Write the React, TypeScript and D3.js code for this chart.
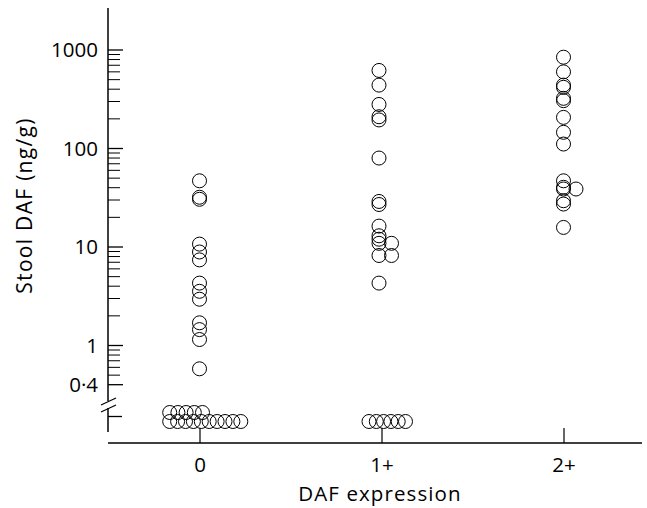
import React from 'react';
import * as d3 from 'd3';

// ---- data ----
const categories = ['0', '1+', '2+'];
const daf0Values = [47, 32, 30.5, 10.7, 8.9, 7.4, 4.3, 3.55, 2.95, 1.7, 1.45, 1.15, 0.58];
const daf1Values = [620, 440, 280, 210, 195, 80, 29, 27, 16.3, 13, 12, 10.9, 10.9, 8.2, 8.2, 4.3];
const daf2Values = [845, 600, 440, 418, 323, 306, 207, 146, 111, 47, 40.4, 38.8, 38.8, 29.5, 27.3, 15.8];
const zeroCounts = [15, 6, 0];
const majorTicks = [1000, 100, 10, 1, 0.4];
const majorTickLabels = ['1000', '100', '10', '1', '0·4'];
const minorTicks = [
  0.5, 0.6, 0.7, 0.8, 0.9,
  2, 3, 4, 5, 6, 7, 8, 9,
  20, 30, 40, 50, 60, 70, 80, 90,
  200, 300, 400, 500, 600, 700, 800, 900,
];
const yTitle = 'Stool DAF (ng/g)';
const xTitle = 'DAF expression';

const FONT = "'Open Sans', 'Liberation Sans', sans-serif";

export default function App() {
  const W = 647;
  const H = 508;
  const axisX = 108;
  const axisTop = 8;
  const axisBottom = 432;
  const xAxisY = 443;
  const xAxisRight = 642;
  const r = 7;

  const x = d3.scalePoint<string>().domain(categories).range([200, 564]);
  const y = d3.scaleLog().domain([1, 1000]).range([345.5, 50]);

  const colShift = [-0.5, -3, -0.5];
  const sideStep = 12.5;
  const series = [daf0Values, daf1Values, daf2Values];

  const points: { cx: number; cy: number }[] = [];
  series.forEach((vals, i) => {
    const seen = new Map<number, number>();
    vals.forEach((v) => {
      const slot = seen.get(v) || 0;
      seen.set(v, slot + 1);
      points.push({
        cx: (x(categories[i]) as number) + colShift[i] + slot * sideStep,
        cy: y(v),
      });
    });
  });

  // below-detection (zero) values, packed in rows below the axis break
  const zeroY = 416.5;
  const rowY = [421.5, 412.5];
  const rowCap = [10, 6];
  const rowStart = [-30.3, -13];
  const rowStep = [[7.9, 8.2], [7.3]];
  const zeros: { cx: number; cy: number }[] = [];
  zeroCounts.forEach((n, i) => {
    const cap = rowCap[i] ?? n;
    for (let k = 0; k < n; k++) {
      const row = Math.floor(k / cap);
      const col = k % cap;
      const step = (rowStep[i] && rowStep[i][row]) || 8;
      zeros.push({
        cx: (x(categories[i]) as number) + rowStart[i] + col * step,
        cy: rowY[row],
      });
    }
  });

  const breakTop = 401;
  const breakBottom = 408;

  return (
    <div style={{ position: 'absolute', left: 0, top: 0 }}>
      <svg width={W} height={H} style={{ display: 'block', background: '#fff' }} fontFamily={FONT}>
        {/* y axis */}
        <line x1={axisX} x2={axisX} y1={axisTop} y2={breakTop} stroke="#000" strokeWidth={1.5} />
        <line x1={axisX} x2={axisX} y1={breakBottom} y2={axisBottom} stroke="#000" strokeWidth={1.5} />
        <line x1={101} x2={116} y1={breakTop + 4} y2={breakTop - 3} stroke="#000" strokeWidth={1.2} />
        <line x1={101} x2={116} y1={breakBottom + 4} y2={breakBottom - 3} stroke="#000" strokeWidth={1.2} />
        <line x1={axisX} x2={axisX + 14} y1={zeroY} y2={zeroY} stroke="#000" strokeWidth={1.3} />
        {minorTicks.map((t) => (
          <line key={'m' + t} x1={axisX} x2={axisX + 12} y1={y(t)} y2={y(t)} stroke="#000" strokeWidth={1} />
        ))}
        {majorTicks.map((t, i) => (
          <g key={'M' + t}>
            <line x1={axisX} x2={axisX + 15} y1={y(t)} y2={y(t)} stroke="#000" strokeWidth={1.3} />
            <text x={98} y={y(t) + 7.3} textAnchor="end" fontSize={20.5} fill="#000">
              {majorTickLabels[i]}
            </text>
          </g>
        ))}
        <text
          transform={`translate(32,205.5) rotate(-90)`}
          textAnchor="middle"
          fontSize={21}
          letterSpacing={1.3}
          fill="#000"
        >
          {yTitle}
        </text>

        {/* x axis */}
        <line x1={axisX} x2={xAxisRight} y1={xAxisY} y2={xAxisY} stroke="#000" strokeWidth={1.5} />
        {categories.map((c) => (
          <g key={c}>
            <line x1={x(c)} x2={x(c)} y1={xAxisY} y2={xAxisY - 15} stroke="#000" strokeWidth={1.2} />
            <text x={x(c)} y={472} textAnchor="middle" fontSize={20.5} fill="#000">
              {c}
            </text>
          </g>
        ))}
        <text x={(x('1+') as number) - 2} y={501} textAnchor="middle" fontSize={20.5} letterSpacing={1.1} fill="#000">
          {xTitle}
        </text>

        {/* points */}
        {points.map((p, i) => (
          <circle key={'p' + i} cx={p.cx} cy={p.cy} r={r} fill="none" stroke="#000" strokeWidth={1} />
        ))}
        {zeros.map((p, i) => (
          <circle key={'z' + i} cx={p.cx} cy={p.cy} r={r} fill="none" stroke="#000" strokeWidth={1} />
        ))}
      </svg>
    </div>
  );
}
